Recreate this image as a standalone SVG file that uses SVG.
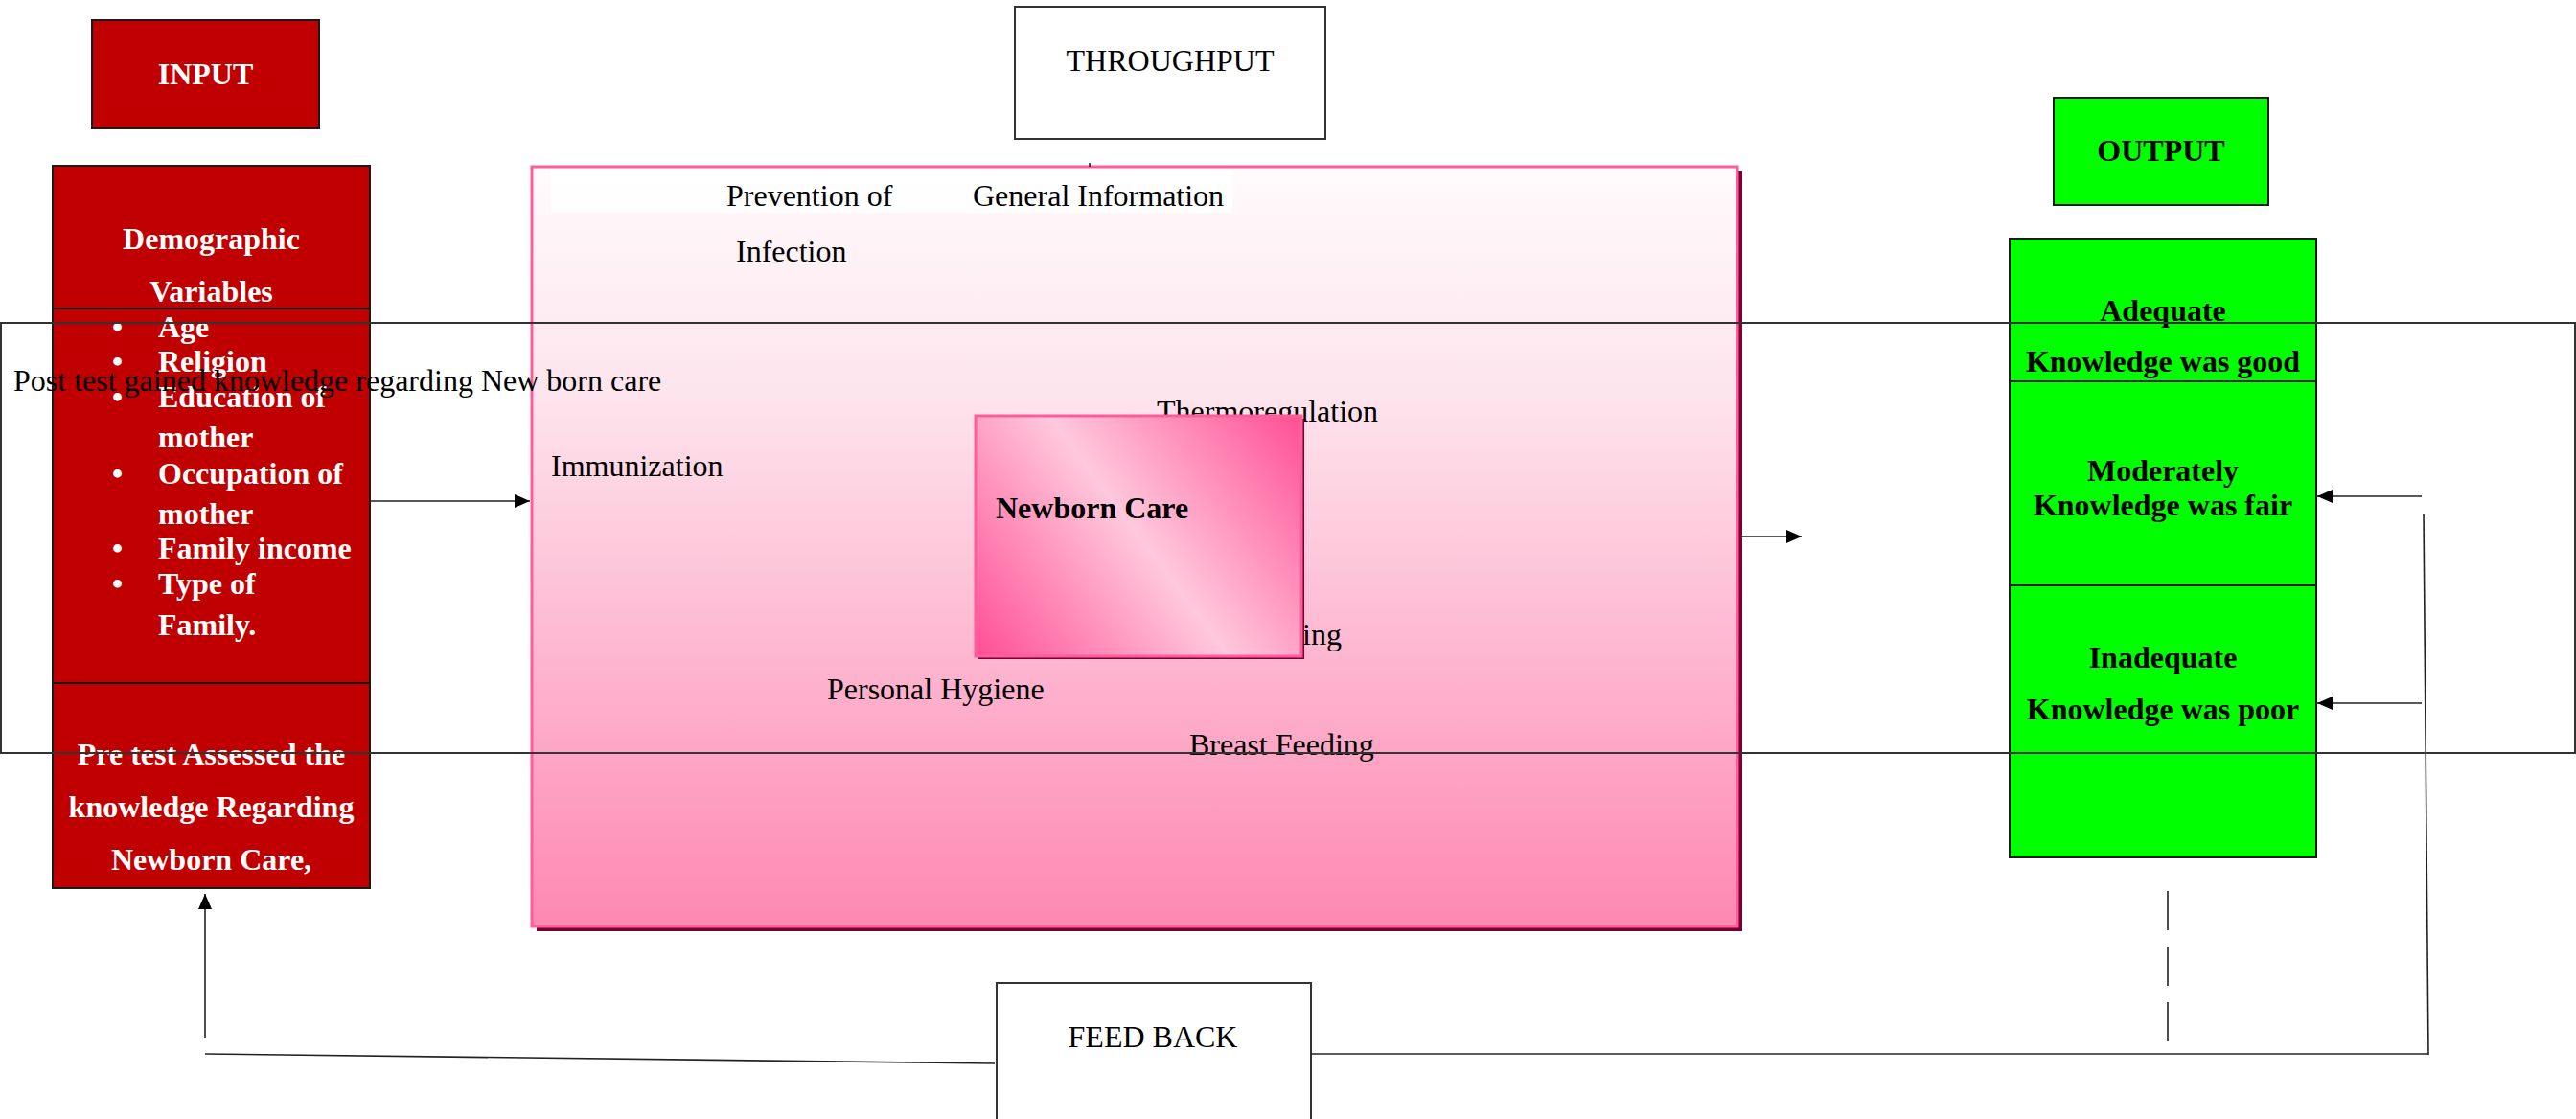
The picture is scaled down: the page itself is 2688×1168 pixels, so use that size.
<svg xmlns="http://www.w3.org/2000/svg" width="2688" height="1168" viewBox="0 0 2688 1168">
  <defs>
    <style>
      text { font-family: "Liberation Serif", "Times New Roman", serif; font-size: 32px; }
      .b { font-weight: bold; }
      .w { fill: #ffffff; }
      .k { fill: #000000; }
      .mid { text-anchor: middle; }
      .red { fill: #c00000; stroke: #1a1a1a; stroke-width: 2; }
      .green { fill: #00ff00; stroke: #1a1a1a; stroke-width: 2; }
      .plain { fill: #ffffff; stroke: #333333; stroke-width: 2; }
      .rule { stroke: #1a1a1a; stroke-width: 2; fill: none; }
      .wire { stroke: #222222; stroke-width: 1.6; fill: none; }
    </style>
    <linearGradient id="throughFill" x1="0" y1="0" x2="0" y2="1">
      <stop offset="0" stop-color="#fffbfd"/>
      <stop offset="0.3" stop-color="#fde4ed"/>
      <stop offset="0.6" stop-color="#fdbcd3"/>
      <stop offset="1" stop-color="#fe88b2"/>
    </linearGradient>
    <linearGradient id="coreFill" gradientUnits="userSpaceOnUse" x1="1019" y1="685" x2="1357" y2="433">
      <stop offset="0" stop-color="#ff4f94"/>
      <stop offset="0.5" stop-color="#ffc8dc"/>
      <stop offset="1" stop-color="#ff4f94"/>
    </linearGradient>
    <marker id="head" viewBox="0 0 16 14" refX="16" refY="7" markerWidth="16" markerHeight="14" markerUnits="userSpaceOnUse" orient="auto">
      <path d="M0,0 L16,7 L0,14 Z" fill="#000000"/>
    </marker>
  </defs>

  <!-- THROUGHPUT panel with its topics -->
  <g id="throughput-panel">
    <rect x="560" y="179" width="1258" height="793" fill="#7a0032"/>
    <rect x="555" y="174" width="1258" height="793" fill="url(#throughFill)" stroke="#ff5c99" stroke-width="3"/>
    <rect x="575" y="177" width="711" height="45" fill="#ffffff" opacity="0.85"/>
    <text x="758" y="215" class="k">Prevention of</text>
    <text x="1015" y="215" class="k">General Information</text>
    <text x="768" y="273" class="k">Infection</text>
    <text x="1207" y="440" class="k">Thermoregulation</text>
    <text x="575" y="497" class="k">Immunization</text>
    <text x="1359" y="673" class="k">ing</text>
    <text x="863" y="730" class="k">Personal Hygiene</text>
    <text x="1241" y="788" class="k">Breast Feeding</text>
  </g>

  <g id="newborn-care">
    <rect x="1021" y="437" width="340" height="251" fill="#7a0032"/>
    <rect x="1018" y="434" width="340" height="251" fill="url(#coreFill)" stroke="#ff5c99" stroke-width="3"/>
    <text x="1039" y="541" class="k b">Newborn Care</text>
  </g>

  <g id="throughput-title">
    <rect x="1059" y="7" width="324" height="138" class="plain"/>
    <text x="1221" y="74" class="k mid">THROUGHPUT</text>
  </g>

  <!-- INPUT column -->
  <g id="input-title">
    <rect x="96" y="21" width="237" height="113" class="red"/>
    <text x="214.5" y="88" class="w b mid">INPUT</text>
  </g>

  <g id="input-variables">
    <rect x="55" y="173" width="331" height="754" class="red"/>
    <line x1="55" y1="322" x2="386" y2="322" class="rule"/>
    <line x1="55" y1="713" x2="386" y2="713" class="rule"/>
    <text x="220.5" y="260" class="w b mid">Demographic</text>
    <text x="220.5" y="315" class="w b mid">Variables</text>
    <g class="w b">
      <text x="117" y="352">•</text><text x="165" y="352">Age</text>
      <text x="117" y="388">•</text><text x="165" y="388">Religion</text>
      <text x="117" y="425">•</text><text x="165" y="425">Education of</text>
      <text x="165" y="467">mother</text>
      <text x="117" y="505">•</text><text x="165" y="505">Occupation of</text>
      <text x="165" y="547">mother</text>
      <text x="117" y="583">•</text><text x="165" y="583">Family income</text>
      <text x="117" y="620">•</text><text x="165" y="620">Type of</text>
      <text x="165" y="663">Family.</text>
    </g>
    <text x="220.5" y="798" class="w b mid">Pre test Assessed the</text>
    <text x="220.5" y="853" class="w b mid">knowledge Regarding</text>
    <text x="220.5" y="908" class="w b mid">Newborn Care,</text>
  </g>

  <!-- OUTPUT column -->
  <g id="output-title">
    <rect x="2143" y="102" width="224" height="112" class="green"/>
    <text x="2255" y="168" class="k b mid">OUTPUT</text>
  </g>

  <g id="output-levels">
    <rect x="2097" y="249" width="320" height="646" class="green"/>
    <line x1="2097" y1="398" x2="2417" y2="398" class="rule"/>
    <line x1="2097" y1="611" x2="2417" y2="611" class="rule"/>
    <text x="2257" y="335" class="k b mid">Adequate</text>
    <text x="2257" y="388" class="k b mid">Knowledge was good</text>
    <text x="2257" y="502" class="k b mid">Moderately</text>
    <text x="2257" y="538" class="k b mid">Knowledge was fair</text>
    <text x="2257" y="697" class="k b mid">Inadequate</text>
    <text x="2257" y="751" class="k b mid">Knowledge was poor</text>
  </g>

  <g id="feedback">
    <rect x="1040" y="1026" width="328" height="160" class="plain"/>
    <text x="1203" y="1093" class="k mid">FEED BACK</text>
  </g>

  <!-- connectors -->
  <g id="connectors">
    <line x1="386" y1="523" x2="553" y2="523" class="wire" marker-end="url(#head)"/>
    <line x1="1137" y1="170" x2="1137" y2="174" class="wire"/>
    <line x1="1817" y1="560" x2="1880" y2="560" class="wire" marker-end="url(#head)"/>
    <line x1="2527" y1="518" x2="2418" y2="518" class="wire" marker-end="url(#head)"/>
    <line x1="2527" y1="734" x2="2418" y2="734" class="wire" marker-end="url(#head)"/>
    <line x1="2529" y1="537" x2="2534" y2="1101" class="wire"/>
    <line x1="2534" y1="1100" x2="1368" y2="1100" class="wire"/>
    <line x1="2262" y1="930" x2="2262" y2="1088" class="wire" stroke-dasharray="41 17" stroke-width="1.2"/>
    <line x1="1038" y1="1110" x2="214" y2="1100" class="wire"/>
    <line x1="214" y1="1083" x2="214" y2="933" class="wire" marker-end="url(#head)"/>
  </g>

  <!-- post-test frame drawn over the columns -->
  <g id="post-test">
    <rect x="1" y="337" width="2686" height="449" fill="none" stroke="#333333" stroke-width="2"/>
    <text x="14" y="408" class="k" font-size="30">Post test gained knowledge regarding New born care</text>
  </g>
</svg>
